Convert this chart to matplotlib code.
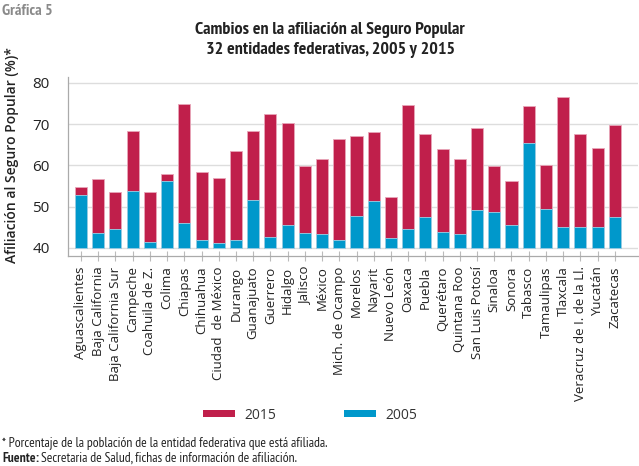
import matplotlib
matplotlib.use("Agg")
import matplotlib.pyplot as plt
from matplotlib.patches import Patch
import numpy as np

# data
states = ["Aguascalientes", "Baja California", "Baja California Sur", "Campeche",
          "Coahuila de Z.", "Colima", "Chiapas", "Chihuahua", "Ciudad  de México",
          "Durango", "Guanajuato", "Guerrero", "Hidalgo", "Jalisco", "México",
          "Mich. de Ocampo", "Morelos", "Nayarit", "Nuevo León", "Oaxaca", "Puebla",
          "Querétaro", "Quintana Roo", "San Luis Potosí", "Sinaloa", "Sonora",
          "Tabasco", "Tamaulipas", "Tlaxcala", "Veracruz de I. de la Ll.",
          "Yucatán", "Zacatecas"]
v2015 = [54.7, 56.7, 53.4, 68.2, 53.5, 58.0, 74.9, 58.4, 56.8, 63.4, 68.3, 72.4,
         70.2, 59.8, 61.6, 66.3, 67.1, 68.0, 52.4, 74.7, 67.5, 64.0, 61.4, 69.1,
         59.9, 56.2, 74.3, 60.1, 76.6, 67.5, 64.2, 69.7]
v2005 = [52.85, 43.6, 44.6, 53.7, 41.3, 56.2, 46.1, 41.9, 41.05, 41.9, 51.5, 42.6,
         45.6, 43.6, 43.3, 41.9, 47.6, 51.3, 42.3, 44.5, 47.4, 43.9, 43.3, 49.2,
         48.6, 45.5, 65.4, 49.5, 45.0, 45.0, 45.0, 47.4]
yticks = [40, 50, 60, 70, 80]
base = 40

RED = "#C01F4B"
BLUE = "#0098CB"
GRID = "#DDDDDD"

plt.rcParams["font.family"] = ["Open Sans", "DejaVu Sans"]
narrow = ["PT Sans Narrow", "Roboto Condensed", "DejaVu Sans"]

fig = plt.figure(figsize=(6.39, 4.66), dpi=100)
ax = fig.add_axes([0.106, 0.4506, 0.892, 0.3842])

x = np.arange(len(states))
h15 = np.array(v2015) - base
h05 = np.array(v2005) - base
ax.bar(x, h15, bottom=base, width=0.7, color=RED, edgecolor="#E8A6B9",
       linewidth=0.6, zorder=2)
ax.bar(x, h05, bottom=base, width=0.7, color=BLUE, edgecolor="#9AD3E8",
       linewidth=0.6, zorder=3)

ax.set_xlim(-0.77, 32.33)
ax.set_ylim(38.0, 81.4)
ax.set_yticks(yticks)
for yv in yticks:
    ax.axhline(yv, color=GRID, lw=1.0, zorder=1)

ax.set_xticks(x)
ax.set_xticklabels(states, rotation=90, fontsize=9.5, color="#222222")
ax.tick_params(axis="x", direction="inout", length=7, color="#BBBBBB", pad=4)
ax.tick_params(axis="y", length=0, labelsize=11, labelcolor="#222222", pad=13)

for s in ["top", "right"]:
    ax.spines[s].set_visible(False)
for s in ["left", "bottom"]:
    ax.spines[s].set_color("#AAAAAA")
    ax.spines[s].set_linewidth(0.9)

fig.text(0.018, 0.436, "Afiliación al Seguro Popular (%)*", rotation=90,
         ha="center", va="bottom", fontsize=10, fontweight="semibold", color="#222222")

fig.text(0.517, 0.935, "Cambios en la afiliación al Seguro Popular",
         ha="center", va="center", fontsize=13, fontweight="bold",
         family=narrow, color="#222222")
fig.text(0.517, 0.892, "32 entidades federativas, 2005 y 2015",
         ha="center", va="center", fontsize=13, fontweight="bold",
         family=narrow, color="#222222")
fig.text(0.003, 0.977, "Gráfica 5", ha="left", va="center", fontsize=11.5,
         fontweight="bold", family=narrow, color="#8A8A8A")

handles = [Patch(facecolor=RED, label="2015"), Patch(facecolor=BLUE, label="2005")]
fig.legend(handles=handles, loc="center", bbox_to_anchor=(0.485, 0.109), ncol=2,
           frameon=False, fontsize=10, handlelength=2.3, handleheight=0.4,
           handletextpad=0.65, columnspacing=4.9, labelcolor="#333333")

fig.text(0.003, 0.049, "* Porcentaje de la población de la entidad federativa que está afiliada.",
         ha="left", va="center", fontsize=9.7, family=narrow, color="#222222")
fnt = fig.text(0.003, 0.017, "Fuente:", ha="left", va="center", fontsize=9.7,
               fontweight="bold", family=narrow, color="#222222")
fig.canvas.draw()
bb = fnt.get_window_extent().transformed(fig.transFigure.inverted())
fig.text(bb.x1 + 0.004, 0.017, "Secretaria de Salud, fichas de información de afiliación.",
         ha="left", va="center", fontsize=9.7, family=narrow, color="#222222")

fig.savefig("out.png", dpi=100)
